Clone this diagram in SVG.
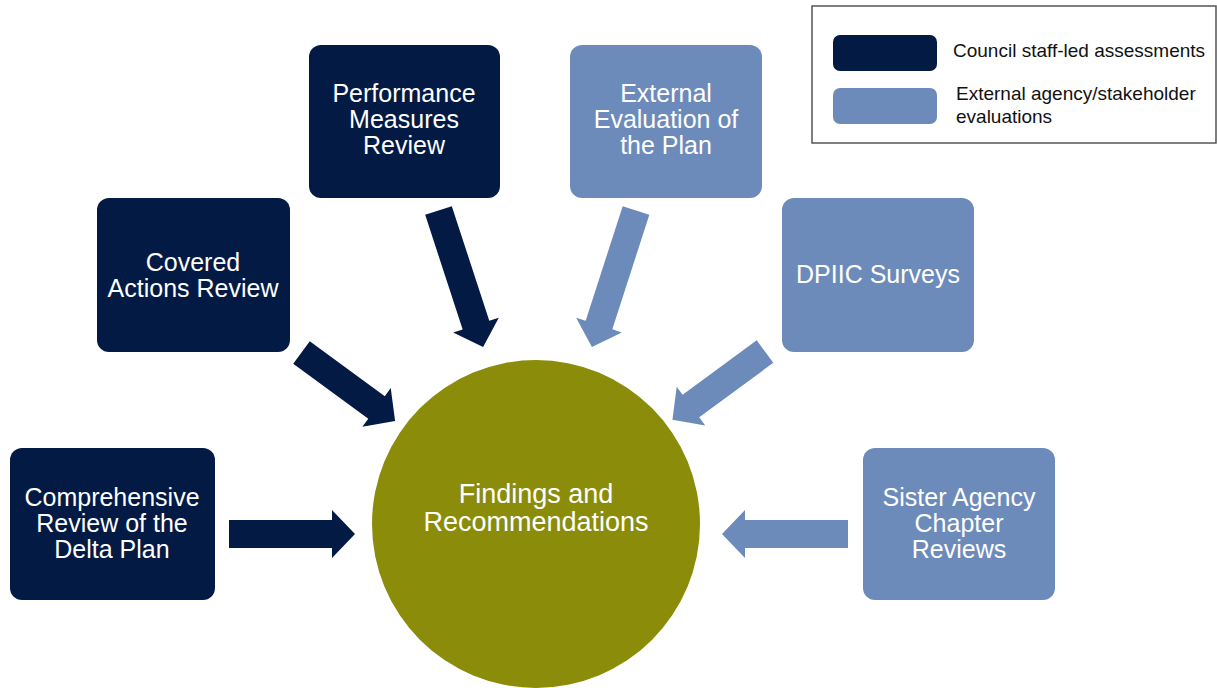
<svg xmlns="http://www.w3.org/2000/svg" width="1217" height="688" viewBox="0 0 1217 688">
<style>
.dark{fill:#031a45}
.light{fill:#6d8bba}
.t{font-family:"Liberation Sans",Arial,sans-serif;font-size:25px;fill:#ffffff;text-anchor:middle}
.c{font-size:27px}
.lg{font-family:"Liberation Sans",Arial,sans-serif;font-size:19px;fill:#111111}
</style>
<rect x="0" y="0" width="1217" height="688" fill="#ffffff"/>
<g id="legend">
<rect x="812" y="6" width="404" height="137" fill="#ffffff" stroke="#555555" stroke-width="1.5"/>
<rect class="dark" x="833" y="35" width="104" height="36" rx="7"/>
<rect class="light" x="833" y="88" width="104" height="36" rx="7"/>
<text class="lg" x="953" y="57">Council staff-led assessments</text>
<text class="lg" x="956" y="100">External agency/stakeholder</text>
<text class="lg" x="956" y="123">evaluations</text>
</g>
<g id="connectors">
<polygon class="dark" transform="translate(229,534)" points="0,-14 103,-14 103,-24 126,0 103,24 103,14 0,14"/>
<polygon class="dark" transform="translate(301.5,352.5) rotate(36.2)" points="0,-14 93,-14 93,-24 116,0 93,24 93,14 0,14"/>
<polygon class="dark" transform="translate(438.5,210.5) rotate(71.9)" points="0,-14 120.6,-14 120.6,-24 143.6,0 120.6,24 120.6,14 0,14"/>
<polygon class="light" transform="translate(636,210.5) rotate(107.9)" points="0,-14 120.4,-14 120.4,-24 143.4,0 120.4,24 120.4,14 0,14"/>
<polygon class="light" transform="translate(765,351.5) rotate(143.6)" points="0,-14 92,-14 92,-24 115,0 92,24 92,14 0,14"/>
<polygon class="light" transform="translate(848,534) rotate(180)" points="0,-14 103,-14 103,-24 126,0 103,24 103,14 0,14"/>
</g>
<g id="center">
<circle cx="536" cy="524" r="164" fill="#8a8c0a"/>
<text class="t c" x="536" y="503">Findings and</text>
<text class="t c" x="536" y="531">Recommendations</text>
</g>
<g id="comprehensive">
<rect class="dark" x="10" y="448" width="205" height="152" rx="12"/>
<text class="t" x="112" y="506">Comprehensive</text>
<text class="t" x="112" y="532">Review of the</text>
<text class="t" x="112" y="558">Delta Plan</text>
</g>
<g id="covered">
<rect class="dark" x="97" y="198" width="193" height="154" rx="12"/>
<text class="t" x="193" y="271">Covered</text>
<text class="t" x="193" y="297">Actions Review</text>
</g>
<g id="performance">
<rect class="dark" x="309" y="45" width="191" height="153" rx="12"/>
<text class="t" x="404" y="102">Performance</text>
<text class="t" x="404" y="128">Measures</text>
<text class="t" x="404" y="154">Review</text>
</g>
<g id="external">
<rect class="light" x="570" y="45" width="192" height="153" rx="12"/>
<text class="t" x="666" y="102">External</text>
<text class="t" x="666" y="128">Evaluation of</text>
<text class="t" x="666" y="154">the Plan</text>
</g>
<g id="dpiic">
<rect class="light" x="782" y="198" width="192" height="154" rx="12"/>
<text class="t" x="878" y="283">DPIIC Surveys</text>
</g>
<g id="sister">
<rect class="light" x="863" y="448" width="192" height="152" rx="12"/>
<text class="t" x="959" y="506">Sister Agency</text>
<text class="t" x="959" y="532">Chapter</text>
<text class="t" x="959" y="558">Reviews</text>
</g>
</svg>
